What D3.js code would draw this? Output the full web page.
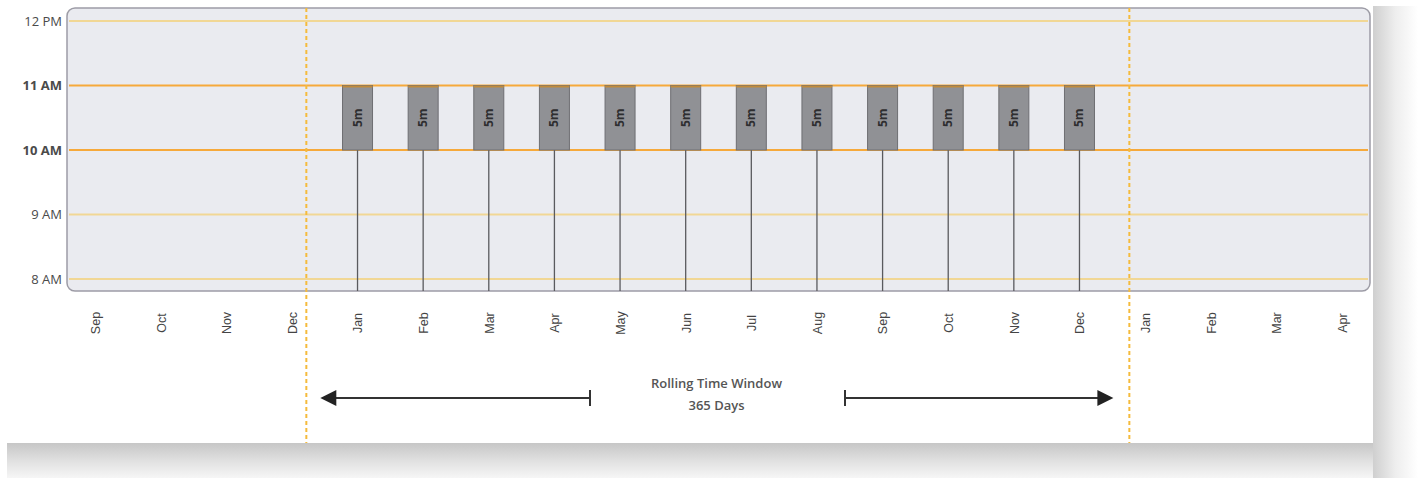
<!DOCTYPE html>
<html><head><meta charset="utf-8">
<script src="https://cdn.jsdelivr.net/npm/d3@7"></script>
<style>html,body{margin:0;padding:0;background:#fff;}svg{display:block;}</style>
</head><body>
<script>
// ---- data ----
const monthLabels = ["Sep","Oct","Nov","Dec","Jan","Feb","Mar","Apr","May","Jun","Jul","Aug","Sep","Oct","Nov","Dec","Jan","Feb","Mar","Apr"];
const hourTicks = [8, 9, 10, 11, 12];
const hourLabels = ["8 AM","9 AM","10 AM","11 AM","12 PM"];
const boldHours = [10, 11];
const barMonthIndex = [4,5,6,7,8,9,10,11,12,13,14,15];
const barStart = [10,10,10,10,10,10,10,10,10,10,10,10];
const barEnd = [11,11,11,11,11,11,11,11,11,11,11,11];
const barLabels = ["5m","5m","5m","5m","5m","5m","5m","5m","5m","5m","5m","5m"];
const windowBounds = [3.22, 15.76];
const windowText = ["Rolling Time Window", "365 Days"];

const W = 1418, H = 478;
const svg = d3.select("body").append("svg").attr("width", W).attr("height", H);
const defs = svg.append("defs");

// shadow gradients
const gB = defs.append("linearGradient").attr("id","shB").attr("x1",0).attr("y1",0).attr("x2",0).attr("y2",1);
gB.append("stop").attr("offset",0).attr("stop-color","#c6c6c6");
gB.append("stop").attr("offset",0.5).attr("stop-color","#e0e0e0");
gB.append("stop").attr("offset",1).attr("stop-color","#f6f6f6");
const gR = defs.append("linearGradient").attr("id","shR").attr("x1",0).attr("y1",0).attr("x2",1).attr("y2",0);
gR.append("stop").attr("offset",0).attr("stop-color","#cfcfcf");
gR.append("stop").attr("offset",0.5).attr("stop-color","#eeeeee");
gR.append("stop").attr("offset",1).attr("stop-color","#ffffff");

const card = {x0: 7, x1: 1373, y0: 0, y1: 443};
svg.append("rect").attr("x", card.x1).attr("y", 6).attr("width", 45).attr("height", H - 6).attr("fill","url(#shR)");
svg.append("rect").attr("x", card.x0).attr("y", card.y1).attr("width", card.x1 - card.x0).attr("height", H - card.y1).attr("fill","url(#shB)");
svg.append("rect").attr("x", card.x0).attr("y", card.y0).attr("width", card.x1 - card.x0).attr("height", card.y1 - card.y0).attr("fill","#fff");

// scales
const x = d3.scaleLinear().domain([0, monthLabels.length - 1]).range([95, 1342]);
const y = d3.scaleLinear().domain([8, 12]).range([279, 21]);
const plot = {x0: 67, x1: 1370, y0: 8, y1: 291};

// plot background
svg.append("rect").attr("x", plot.x0).attr("y", plot.y0)
  .attr("width", plot.x1 - plot.x0).attr("height", plot.y1 - plot.y0)
  .attr("rx", 8).attr("fill", "#eaebf0").attr("stroke", "#9d9ca6").attr("stroke-width", 1.5);

// gridlines
svg.append("g").selectAll("line").data(hourTicks).join("line")
  .attr("x1", plot.x0 + 2).attr("x2", plot.x1 - 2)
  .attr("y1", d => y(d)).attr("y2", d => y(d))
  .attr("stroke", d => boldHours.includes(d) ? "#f6a93b" : "#f1d795")
  .attr("stroke-width", d => boldHours.includes(d) ? 2.2 : 2.2);

// y axis labels
const yAxis = d3.axisLeft(y).tickValues(hourTicks).tickFormat((d,i) => hourLabels[i]).tickSize(0).tickPadding(5);
const ya = svg.append("g").attr("transform", `translate(${plot.x0},0)`).call(yAxis);
ya.select(".domain").remove();
ya.selectAll("text")
  .attr("font-family", "'Open Sans', sans-serif")
  .attr("font-size", 13)
  .attr("fill", "#4a4a4a")
  .attr("font-weight", d => boldHours.includes(d) ? 700 : 400);

// stems
svg.append("g").selectAll("line").data(barMonthIndex).join("line")
  .attr("x1", d => x(d)).attr("x2", d => x(d))
  .attr("y1", (d,i) => y(barStart[i])).attr("y2", plot.y1)
  .attr("stroke", "#5a5a5e").attr("stroke-width", 1.3);

// bars
const bw = 30;
const bars = svg.append("g").selectAll("g").data(barMonthIndex).join("g");
bars.append("rect")
  .attr("x", d => x(d) - bw/2).attr("width", bw)
  .attr("y", (d,i) => y(barEnd[i])).attr("height", (d,i) => y(barStart[i]) - y(barEnd[i]))
  .attr("fill", "#909195").attr("stroke", "#6e6e72").attr("stroke-width", 1);
bars.append("line")
  .attr("x1", d => x(d) - bw/2).attr("x2", d => x(d) + bw/2)
  .attr("y1", (d,i) => y(barEnd[i]) + 1).attr("y2", (d,i) => y(barEnd[i]) + 1)
  .attr("stroke", "#c08a3a").attr("stroke-width", 2);
bars.append("text")
  .attr("transform", (d,i) => `translate(${x(d) + 4},${(y(barStart[i]) + y(barEnd[i]))/2}) rotate(-90)`)
  .attr("text-anchor", "middle")
  .attr("font-family", "'Open Sans', sans-serif")
  .attr("font-size", 12).attr("font-weight", 700)
  .attr("fill", "#2e2e30")
  .text((d,i) => barLabels[i]);

// window dashed lines
svg.append("g").selectAll("line").data(windowBounds).join("line")
  .attr("x1", d => x(d)).attr("x2", d => x(d))
  .attr("y1", plot.y0).attr("y2", card.y1)
  .attr("stroke", "#f5bb3c").attr("stroke-width", 2).attr("stroke-dasharray", "4,3");

// month labels
const xAxis = d3.axisBottom(x).tickValues(d3.range(monthLabels.length)).tickFormat(i => monthLabels[i]).tickSize(0);
const xa = svg.append("g").attr("transform", `translate(0,${plot.y1})`).call(xAxis);
xa.select(".domain").remove();
xa.selectAll("text")
  .attr("transform", "rotate(-90)")
  .attr("x", -32).attr("y", 0).attr("dy", "0.35em")
  .attr("text-anchor", "middle")
  .attr("font-family", "'Liberation Sans', Arial, sans-serif")
  .attr("font-size", 12.5)
  .attr("fill", "#444");

// arrow
const arrowY = 398;
const leftStart = x(windowBounds[0]) + 14, leftEnd = 590;
const rightStart = 845, rightEnd = x(windowBounds[1]) - 16;
const ag = svg.append("g").attr("stroke", "#333").attr("stroke-width", 2);
ag.append("line").attr("x1", leftEnd).attr("x2", leftStart + 14).attr("y1", arrowY).attr("y2", arrowY);
ag.append("line").attr("x1", rightStart).attr("x2", rightEnd - 14).attr("y1", arrowY).attr("y2", arrowY);
ag.append("line").attr("x1", leftEnd).attr("x2", leftEnd).attr("y1", arrowY - 8).attr("y2", arrowY + 8);
ag.append("line").attr("x1", rightStart).attr("x2", rightStart).attr("y1", arrowY - 8).attr("y2", arrowY + 8);
svg.append("path").attr("d", `M${leftStart},${arrowY} L${leftStart + 16},${arrowY - 8} L${leftStart + 16},${arrowY + 8} Z`).attr("fill", "#222");
svg.append("path").attr("d", `M${rightEnd},${arrowY} L${rightEnd - 16},${arrowY - 8} L${rightEnd - 16},${arrowY + 8} Z`).attr("fill", "#222");

svg.append("g").selectAll("text").data(windowText).join("text")
  .attr("x", (leftEnd + rightStart) / 2 - 1)
  .attr("y", (d,i) => 388 + i * 22)
  .attr("text-anchor", "middle")
  .attr("font-family", "'Open Sans', sans-serif")
  .attr("font-size", 13).attr("font-weight", 600)
  .attr("fill", "#555")
  .text(d => d);
</script>
</body></html>
